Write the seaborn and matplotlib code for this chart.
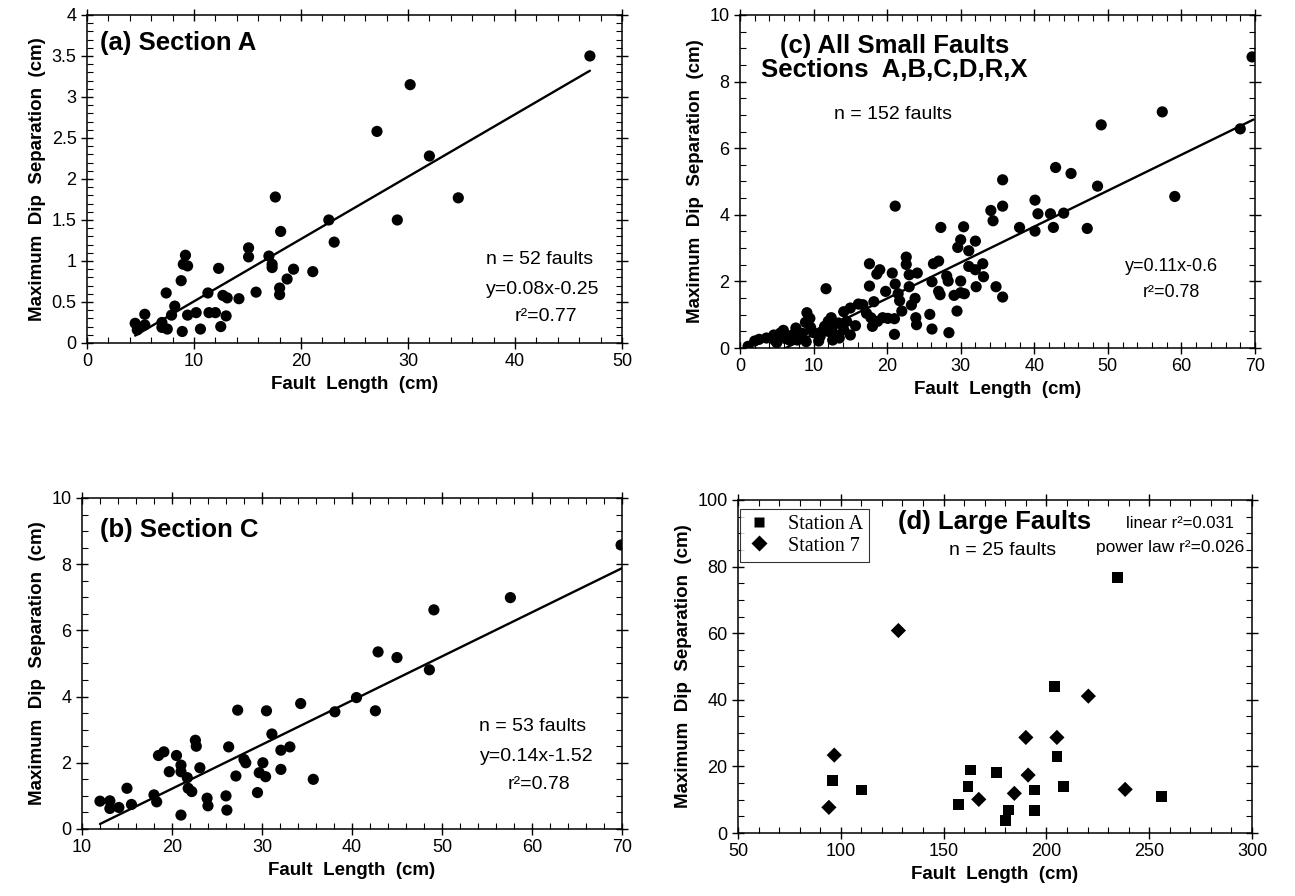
import pandas as pd
import matplotlib
matplotlib.use('Agg')
import matplotlib.pyplot as plt
from matplotlib.ticker import MultipleLocator, FormatStrFormatter
import seaborn as sns

# (a) Section A
a_len = [4.5, 4.7, 5.4, 5.4, 7.0, 7.0, 7.5, 7.4, 7.9, 8.2, 8.8, 8.9, 9.2, 9.0, 9.4, 9.4,
         10.2, 10.6, 11.3, 11.4, 12.0, 12.3, 12.5, 12.7, 13.1, 13.0, 14.2, 15.1, 15.1, 15.8,
         17.0, 17.3, 17.3, 17.6, 18.1, 18.0, 18.0, 18.7, 19.3, 21.1, 22.6, 23.1, 27.1, 29.0,
         30.2, 32.0, 34.7, 47.0]
a_sep = [0.24, 0.16, 0.35, 0.22, 0.25, 0.19, 0.17, 0.61, 0.34, 0.45, 0.76, 0.14, 1.07, 0.96,
         0.94, 0.34, 0.37, 0.17, 0.61, 0.37, 0.37, 0.91, 0.20, 0.58, 0.55, 0.33, 0.54, 1.16,
         1.05, 0.62, 1.06, 0.96, 0.92, 1.78, 1.36, 0.67, 0.59, 0.78, 0.90, 0.87, 1.50, 1.23,
         2.58, 1.50, 3.15, 2.28, 1.77, 3.50]
a_fit_x = [4.5, 47.0]
a_fit_y = [0.09, 3.32]

# (b) Section C
b_len = [12.0, 13.1, 13.1, 14.1, 15.0, 15.5, 18.0, 18.3, 18.5, 19.1, 19.7, 20.5, 21.0, 21.0,
         21.0, 21.7, 21.8, 22.2, 22.6, 22.7, 23.1, 23.9, 24.0, 26.0, 26.1, 26.3, 27.1, 27.3,
         28.0, 28.2, 29.5, 29.7, 30.1, 30.4, 30.5, 31.1, 32.1, 32.1, 33.1, 34.3, 35.7, 38.1,
         40.5, 42.6, 42.9, 45.0, 48.6, 49.1, 57.6, 69.9]
b_sep = [0.84, 0.85, 0.62, 0.65, 1.23, 0.74, 1.03, 0.82, 2.22, 2.33, 1.73, 2.22, 1.93, 1.73,
         0.42, 1.55, 1.23, 1.13, 2.68, 2.50, 1.85, 0.93, 0.70, 1.00, 0.57, 2.48, 1.60, 3.59,
         2.10, 2.00, 1.10, 1.70, 2.00, 1.58, 3.57, 2.87, 1.80, 2.38, 2.48, 3.79, 1.50, 3.54,
         3.97, 3.57, 5.35, 5.18, 4.81, 6.62, 6.99, 8.58]
b_fit_x = [12.0, 70.0]
b_fit_y = [0.15, 7.88]

# (c) all small faults
c_len = [1.1, 2.0, 2.6, 4.6, 4.7, 5.0, 5.9, 6.1, 6.7, 7.6, 7.8, 8.5, 8.9, 9.1, 9.5, 9.0,
         10.0, 10.7, 11.1, 11.7, 11.5, 12.0, 12.4, 12.6, 12.6, 13.0, 13.4, 14.1, 14.1, 15.0,
         15.0, 15.7, 16.1, 16.7, 17.2, 17.6, 17.6, 17.8, 18.2, 18.0, 18.6, 19.0, 18.7, 19.4,
         19.8, 20.1, 20.7, 21.0, 21.0, 21.1, 21.1, 21.5, 21.7, 22.0, 22.6, 22.6, 23.0, 23.0,
         23.3, 23.8, 23.9, 24.1, 24.0, 25.8, 26.1, 26.1, 26.3, 27.0, 27.0, 27.2, 27.3, 28.1,
         28.3, 28.4, 29.1, 29.5, 29.6, 30.0, 30.0, 30.0, 30.4, 30.5, 31.1, 31.1, 32.0, 32.0,
         32.1, 33.0, 33.1, 34.1, 34.4, 34.8, 35.7, 35.7, 35.7, 38.0, 40.1, 40.1, 40.5, 42.2,
         42.6, 42.9, 44.0, 45.0, 47.2, 48.6, 49.1, 57.4, 59.1, 68.0, 69.6,
         5.5, 6.5, 8.0, 9.6, 10.9, 12.0, 13.5, 14.5, 3.6, 7.2]
c_sep = [0.05, 0.21, 0.26, 0.39, 0.24, 0.16, 0.53, 0.29, 0.24, 0.60, 0.24, 0.44, 0.77, 1.06,
         0.89, 0.19, 0.46, 0.21, 0.49, 1.78, 0.65, 0.80, 0.91, 0.65, 0.24, 0.39, 0.75, 1.09,
         0.55, 0.39, 1.20, 0.67, 1.32, 1.30, 1.04, 2.53, 1.86, 0.91, 1.39, 0.65, 2.22, 2.35,
         0.80, 0.91, 1.70, 0.89, 2.25, 0.88, 0.41, 4.26, 1.92, 1.63, 1.42, 1.11, 2.73, 2.51,
         2.20, 1.84, 1.29, 1.49, 0.91, 2.25, 0.70, 1.01, 1.99, 0.57, 2.53, 2.61, 1.70, 1.60,
         3.62, 2.16, 2.01, 0.46, 1.58, 1.11, 3.02, 3.25, 2.01, 1.66, 3.64, 1.63, 2.92, 2.45,
         3.21, 2.35, 1.84, 2.53, 2.14, 4.13, 3.82, 1.84, 5.05, 4.26, 1.53, 3.62, 4.44, 3.51,
         4.03, 4.03, 3.62, 5.42, 4.05, 5.24, 3.59, 4.86, 6.70, 7.09, 4.55, 6.58, 8.74,
         0.45, 0.35, 0.30, 0.62, 0.35, 0.50, 0.30, 0.80, 0.30, 0.40]
c_fit_x = [6.2, 69.8]
c_fit_y = [0.0, 6.86]

# (d) large faults
d_len_A = [234.4, 204.0, 205.1, 96.0, 110.2, 157.1, 163.0, 161.9, 175.9, 181.5, 180.0,
           194.2, 194.2, 208.4, 256.0]
d_sep_A = [76.8, 43.9, 22.9, 15.7, 12.9, 8.6, 18.9, 13.9, 18.1, 6.9, 3.7, 12.9, 6.7, 13.9, 10.9]
d_len_7 = [94.2, 96.8, 128.0, 167.1, 184.4, 190.0, 191.1, 205.1, 220.4, 238.3]
d_sep_7 = [7.7, 23.4, 60.8, 10.1, 11.9, 28.7, 17.4, 28.7, 41.1, 13.1]

sns.set_style('ticks')
plt.rcParams['font.family'] = ['Liberation Sans', 'DejaVu Sans']
plt.rcParams['axes.linewidth'] = 1.1
for key in ['text.color', 'axes.labelcolor', 'xtick.color', 'ytick.color', 'axes.edgecolor']:
    plt.rcParams[key] = 'black'

fig = plt.figure(figsize=(12.95, 8.96), dpi=100)
ax_a = fig.add_axes([0.0672, 0.6172, 0.4131, 0.3661])
ax_c = fig.add_axes([0.5714, 0.6116, 0.3977, 0.3717])
ax_b = fig.add_axes([0.0633, 0.0748, 0.4170, 0.3694])
ax_d = fig.add_axes([0.5699, 0.0703, 0.3969, 0.3717])

LAB = dict(fontsize=13.5, fontweight='bold')
STAT = dict(fontsize=14, ha='center', va='center')
TITLE = 18.5


def setup(ax, xlim, ylim, xmaj, xmin, ymaj, ymin, yfmt='%g'):
    ax.set_xlim(*xlim)
    ax.set_ylim(*ylim)
    ax.xaxis.set_major_locator(MultipleLocator(xmaj))
    ax.xaxis.set_minor_locator(MultipleLocator(xmin))
    ax.yaxis.set_major_locator(MultipleLocator(ymaj))
    ax.yaxis.set_minor_locator(MultipleLocator(ymin))
    ax.yaxis.set_major_formatter(FormatStrFormatter(yfmt))
    ax.tick_params(which='both', top=True, right=True, labelsize=13, color='black')
    ax.tick_params(which='major', direction='inout', length=8, width=1)
    ax.tick_params(which='minor', direction='in', length=4, width=0.8)
    ax.set_xlabel('Fault  Length  (cm)', **LAB)
    ax.set_ylabel('Maximum  Dip  Separation  (cm)', **LAB)


# (a)
sns.scatterplot(x=a_len, y=a_sep, color='black', s=65, edgecolor='none', ax=ax_a)
sns.lineplot(x=a_fit_x, y=a_fit_y, color='black', lw=1.7, ax=ax_a)
setup(ax_a, (0, 50), (0, 4), 10, 2, 0.5, 0.1)
ax_a.text(0.024, 0.915, '(a) Section A', transform=ax_a.transAxes, fontsize=TITLE,
          fontweight='bold', va='center')
ax_a.text(42.3, 1.02, 'n = 52 faults', **STAT)
ax_a.text(42.6, 0.65, 'y=0.08x-0.25', **STAT)
ax_a.text(42.9, 0.32, 'r²=0.77', **STAT)

# (c)
sns.scatterplot(x=c_len, y=c_sep, color='black', s=65, edgecolor='none', ax=ax_c)
sns.lineplot(x=c_fit_x, y=c_fit_y, color='black', lw=1.7, ax=ax_c)
setup(ax_c, (0, 70), (0, 10), 10, 2, 2, 0.5)
ax_c.text(0.30, 0.87, '(c) All Small Faults\nSections  A,B,C,D,R,X', transform=ax_c.transAxes,
          fontsize=TITLE, fontweight='bold', ha='center', va='center', linespacing=1.0)
ax_c.text(0.297, 0.70, 'n = 152 faults', transform=ax_c.transAxes, fontsize=14,
          ha='center', va='center')
ax_c.text(58.7, 2.45, 'y=0.11x-0.6', fontsize=13, ha='center', va='center')
ax_c.text(58.7, 1.68, 'r²=0.78', fontsize=13, ha='center', va='center')

# (b)
sns.scatterplot(x=b_len, y=b_sep, color='black', s=65, edgecolor='none', ax=ax_b)
sns.lineplot(x=b_fit_x, y=b_fit_y, color='black', lw=1.7, ax=ax_b)
setup(ax_b, (10, 70), (0, 10), 10, 2, 2, 0.5)
ax_b.text(0.033, 0.903, '(b) Section C', transform=ax_b.transAxes, fontsize=TITLE,
          fontweight='bold', va='center')
ax_b.text(60.1, 3.10, 'n = 53 faults', **STAT)
ax_b.text(60.5, 2.20, 'y=0.14x-1.52', **STAT)
ax_b.text(60.8, 1.34, 'r²=0.78', **STAT)

# (d)
d_df = pd.DataFrame({
    'length': d_len_A + d_len_7,
    'sep': d_sep_A + d_sep_7,
    'station': ['Station A'] * len(d_len_A) + ['Station 7'] * len(d_len_7),
})
sns.scatterplot(data=d_df, x='length', y='sep', style='station',
                markers={'Station A': 's', 'Station 7': 'D'}, color='black', s=60,
                edgecolor='none', ax=ax_d)
setup(ax_d, (50, 300), (0, 100), 50, 10, 20, 5)
handles, labels = ax_d.get_legend_handles_labels()
leg = ax_d.legend(handles, labels, loc='upper left', bbox_to_anchor=(0.003, 0.972),
                  borderaxespad=0, frameon=True, fancybox=False, handletextpad=0.8,
                  prop={'family': 'Liberation Serif', 'size': 14.5}, labelspacing=0.1,
                  borderpad=0.3, handlelength=1.3)
leg.get_frame().set_edgecolor('black')
leg.get_frame().set_linewidth(0.8)
ax_d.text(175, 93.4, '(d) Large Faults', fontsize=TITLE, fontweight='bold',
          ha='center', va='center')
ax_d.text(178.7, 84.7, 'n = 25 faults', fontsize=14, ha='center', va='center')
ax_d.text(291, 92.8, 'linear r²=0.031', fontsize=12, ha='right', va='center')
ax_d.text(296, 85.7, 'power law r²=0.026', fontsize=12.5, ha='right', va='center')

fig.savefig('out.png', dpi=100)
